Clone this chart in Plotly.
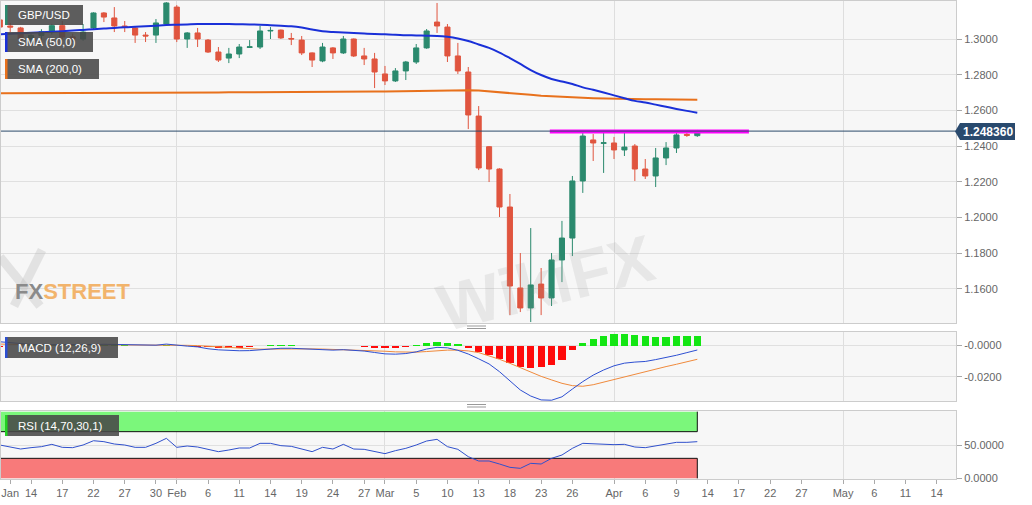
import plotly.graph_objects as go
from plotly.subplots import make_subplots

# ---------------- data ----------------
dates = [
    "2020-01-09", "2020-01-10", "2020-01-13", "2020-01-14", "2020-01-15", "2020-01-16", "2020-01-17",
    "2020-01-20", "2020-01-21", "2020-01-22", "2020-01-23", "2020-01-24", "2020-01-27", "2020-01-28",
    "2020-01-29", "2020-01-30", "2020-01-31",
    "2020-02-03", "2020-02-04", "2020-02-05", "2020-02-06", "2020-02-07", "2020-02-10", "2020-02-11",
    "2020-02-12", "2020-02-13", "2020-02-14", "2020-02-17", "2020-02-18", "2020-02-19", "2020-02-20",
    "2020-02-21", "2020-02-24", "2020-02-25", "2020-02-26", "2020-02-27", "2020-02-28",
    "2020-03-02", "2020-03-03", "2020-03-04", "2020-03-05", "2020-03-06", "2020-03-09", "2020-03-10",
    "2020-03-11", "2020-03-12", "2020-03-13", "2020-03-16", "2020-03-17", "2020-03-18", "2020-03-19",
    "2020-03-20", "2020-03-23", "2020-03-24", "2020-03-25", "2020-03-26", "2020-03-27", "2020-03-30",
    "2020-03-31",
    "2020-04-01", "2020-04-02", "2020-04-03", "2020-04-06", "2020-04-07", "2020-04-08", "2020-04-09",
    "2020-04-10", "2020-04-13",
]

opens = [1.3107, 1.3073, 1.3062, 1.3000, 1.3020, 1.3040, 1.3075, 1.3012, 1.3000, 1.3062,
         1.3146, 1.3118, 1.3073, 1.3062, 1.3022, 1.3022, 1.3084, 1.3179, 1.3000, 1.3034,
         1.2994, 1.2927, 1.2893, 1.2916, 1.2953, 1.2955, 1.3045, 1.3050, 1.3003, 1.2994,
         1.2922, 1.2877, 1.2950, 1.2922, 1.3000, 1.2905, 1.2888, 1.2804, 1.2765, 1.2821,
         1.2871, 1.2950, 1.3095, 1.3067, 1.2905, 1.2815, 1.2568, 1.2396, 1.2271, 1.2058,
         1.1604, 1.1492, 1.1626, 1.1548, 1.1761, 1.1884, 1.2204, 1.2434, 1.2415, 1.2417,
         1.2378, 1.2400, 1.2271, 1.2232, 1.2333, 1.2389, 1.2465, 1.2458]
highs = [1.3115, 1.3090, 1.3068, 1.3030, 1.3055, 1.3085, 1.3101, 1.3030, 1.3084, 1.3150,
         1.3151, 1.3179, 1.3101, 1.3067, 1.3039, 1.3112, 1.3207, 1.3190, 1.3039, 1.3062,
         1.3000, 1.2955, 1.2950, 1.2972, 1.2994, 1.3073, 1.3067, 1.3053, 1.3034, 1.3017,
         1.2925, 1.2978, 1.2955, 1.3017, 1.3003, 1.2950, 1.2922, 1.2849, 1.2837, 1.2877,
         1.2972, 1.3056, 1.3202, 1.3084, 1.2978, 1.2843, 1.2624, 1.2400, 1.2275, 1.2131,
         1.1800, 1.1940, 1.1716, 1.1800, 1.1980, 1.2232, 1.2473, 1.2467, 1.2473, 1.2451,
         1.2473, 1.2411, 1.2327, 1.2389, 1.2422, 1.2473, 1.2473, 1.2490]
lows = [1.3050, 1.3039, 1.2965, 1.2975, 1.2995, 1.3025, 1.3000, 1.2985, 1.2990, 1.3055,
        1.3095, 1.3039, 1.3039, 1.2978, 1.2983, 1.2978, 1.3075, 1.2983, 1.2950, 1.2955,
        1.2922, 1.2871, 1.2865, 1.2893, 1.2950, 1.2944, 1.3000, 1.3000, 1.2966, 1.2910,
        1.2843, 1.2870, 1.2888, 1.2916, 1.2899, 1.2854, 1.2725, 1.2742, 1.2759, 1.2770,
        1.2860, 1.2945, 1.3034, 1.2871, 1.2804, 1.2495, 1.2265, 1.2198, 1.2002, 1.1452,
        1.1469, 1.1413, 1.1452, 1.1503, 1.1637, 1.1783, 1.2137, 1.2316, 1.2249, 1.2327,
        1.2344, 1.2204, 1.2215, 1.2170, 1.2293, 1.2361, 1.2451, 1.2451]
closes = [1.3067, 1.3067, 1.3000, 1.3020, 1.3040, 1.3075, 1.3011, 1.3003, 1.3039, 1.3146,
          1.3123, 1.3073, 1.3067, 1.3022, 1.3017, 1.3090, 1.3202, 1.3000, 1.3034, 1.3000,
          1.2927, 1.2882, 1.2916, 1.2955, 1.2956, 1.3045, 1.3048, 1.3006, 1.3000, 1.2922,
          1.2882, 1.2955, 1.2922, 1.3000, 1.2905, 1.2888, 1.2815, 1.2765, 1.2821, 1.2871,
          1.2950, 1.3045, 1.3073, 1.2905, 1.2821, 1.2574, 1.2277, 1.2271, 1.2058, 1.1615,
          1.1492, 1.1621, 1.1548, 1.1761, 1.1884, 1.2204, 1.2456, 1.2417, 1.2418, 1.2378,
          1.2394, 1.2271, 1.2232, 1.2333, 1.2389, 1.2462, 1.2460, 1.24836]

sma50 = [1.3026, 1.3029, 1.3032, 1.3035, 1.3038, 1.3041, 1.3044, 1.3047, 1.3051, 1.3055,
         1.3059, 1.3062, 1.3066, 1.3069, 1.3072, 1.3075, 1.3078, 1.3080, 1.3082, 1.3084,
         1.3084, 1.3084, 1.3084, 1.3083, 1.3082, 1.3080, 1.3077, 1.3074, 1.3071, 1.3064,
         1.3053, 1.3043, 1.3039, 1.3037, 1.3034, 1.3031, 1.3028, 1.3026, 1.3024, 1.3021,
         1.3020, 1.3018, 1.3017, 1.3012, 1.3003, 1.2989, 1.2969, 1.2950, 1.2924, 1.2893,
         1.2860, 1.2826, 1.2798, 1.2776, 1.2762, 1.2748, 1.2729, 1.2715, 1.2700, 1.2684,
         1.2668, 1.2653, 1.2644, 1.2632, 1.2620, 1.2608, 1.2597, 1.2587]
sma200 = [1.2696, 1.2696, 1.2696, 1.2696, 1.2697, 1.2697, 1.2697, 1.2697, 1.2698, 1.2698,
          1.2698, 1.2698, 1.2699, 1.2699, 1.2699, 1.2699, 1.2700, 1.2700, 1.2700, 1.2700,
          1.2700, 1.2700, 1.2701, 1.2701, 1.2701, 1.2701, 1.2702, 1.2702, 1.2702, 1.2702,
          1.2702, 1.2703, 1.2703, 1.2703, 1.2703, 1.2704, 1.2705, 1.2706, 1.2707, 1.2708,
          1.2710, 1.2711, 1.2712, 1.2713, 1.2713, 1.2713, 1.2711, 1.2707, 1.2702, 1.2697,
          1.2692, 1.2687, 1.2682, 1.2678, 1.2675, 1.2672, 1.2670, 1.2668, 1.2666, 1.2665,
          1.2664, 1.2663, 1.2662, 1.2662, 1.2661, 1.2660, 1.2660, 1.2659]

macd_line = [0.0025, 0.0018, 0.0012, 0.0008, 0.0006, 0.0006, 0.0005, 0.0004, 0.0004, 0.0007,
             0.0009, 0.0008, 0.0006, 0.0003, 0.0001, 0.0003, 0.0010, 0.0002, -0.0003, -0.0008,
             -0.0020, -0.0027, -0.0031, -0.0033, -0.0032, -0.0027, -0.0020, -0.0017, -0.0017, -0.0020,
             -0.0026, -0.0027, -0.0029, -0.0026, -0.0030, -0.0035, -0.0044, -0.0053, -0.0055, -0.0051,
             -0.0040, -0.0022, -0.0011, -0.0014, -0.0030, -0.0054, -0.0085, -0.0118, -0.0168, -0.0228,
             -0.0286, -0.0325, -0.0350, -0.0352, -0.0330, -0.0280, -0.0232, -0.0190, -0.0157, -0.0130,
             -0.0113, -0.0106, -0.0102, -0.0090, -0.0077, -0.0062, -0.0045, -0.0028]
signal_line = [0.0010, 0.0008, 0.0007, 0.0006, 0.0005, 0.0004, 0.0004, 0.0003, 0.0003, 0.0003,
               0.0004, 0.0005, 0.0005, 0.0004, 0.0004, 0.0003, 0.0004, 0.0004, 0.0002, 0.0000,
               -0.0004, -0.0010, -0.0015, -0.0019, -0.0022, -0.0023, -0.0022, -0.0021, -0.0020, -0.0020,
               -0.0021, -0.0022, -0.0024, -0.0025, -0.0026, -0.0028, -0.0031, -0.0036, -0.0040, -0.0042,
               -0.0042, -0.0038, -0.0033, -0.0029, -0.0029, -0.0034, -0.0045, -0.0064, -0.0088, -0.0114,
               -0.0143, -0.0172, -0.0198, -0.0221, -0.0243, -0.0258, -0.0262, -0.0252, -0.0235, -0.0218,
               -0.0200, -0.0183, -0.0167, -0.0151, -0.0135, -0.0120, -0.0104, -0.0088]
macd_hist = [-0.0008, -0.0005, -0.0004, 0.0002, 0.0002, 0.0002, 0.0002, 0.0001, 0.0001, 0.0004,
             0.0005, 0.0003, 0.0001, -0.0001, -0.0003, 0.0000, 0.0006, -0.0002, -0.0005, -0.0008,
             -0.0011, -0.0014, -0.0015, -0.0013, -0.0010, -0.0004, 0.0001, 0.0003, 0.0002, -0.0001,
             -0.0005, -0.0005, -0.0005, -0.0001, -0.0004, -0.0007, -0.0013, -0.0017, -0.0015, -0.0009,
             0.0002, 0.0016, 0.0022, 0.0015, 0.0008, -0.0012, -0.0042, -0.0062, -0.0086, -0.0112,
             -0.0138, -0.0145, -0.0140, -0.0125, -0.0095, -0.0030, 0.0020, 0.0044, 0.0063, 0.0072,
             0.0076, 0.0068, 0.0060, 0.0059, 0.0059, 0.0060, 0.0060, 0.0061]

rsi = [50, 47, 44, 46, 47.5, 51, 46.5, 46, 50, 56.4,
       55, 51.5, 50, 46.5, 46.5, 52.5, 60, 46.5, 48.5, 47,
       43.5, 40, 42.5, 45.5, 45.5, 52.5, 52.5, 49, 48, 44,
       40, 46.5, 44, 51, 44, 43.5, 40, 37, 41.5, 45,
       50, 56, 58.5, 47.5, 43.5, 32.5, 26, 26, 21.5, 16.5,
       15, 22.5, 21.5, 30, 35, 45, 52.5, 51.5, 51.5, 50.5,
       51, 47, 46, 49, 51, 54, 54, 55]

last_price = 1.248360
resistance_dates = ["2020-03-24 08:00", "2020-04-20 11:00"]
resistance_level = [1.2481, 1.2481]
rsi_upper, rsi_lower = 70, 30

tick_dates = ["2020-01-10", "2020-01-14", "2020-01-17", "2020-01-22", "2020-01-27", "2020-01-30",
              "2020-02-03", "2020-02-06", "2020-02-11", "2020-02-14", "2020-02-19", "2020-02-24",
              "2020-02-27", "2020-03-02", "2020-03-05", "2020-03-10", "2020-03-13", "2020-03-18",
              "2020-03-23", "2020-03-26", "2020-04-01", "2020-04-06", "2020-04-09", "2020-04-14",
              "2020-04-17", "2020-04-22", "2020-04-27", "2020-05-01", "2020-05-06", "2020-05-11",
              "2020-05-14"]
tick_labels = ["Jan", "14", "17", "22", "27", "30", "Feb", "6", "11", "14", "19", "24", "27", "Mar",
               "5", "10", "13", "18", "23", "26", "Apr", "6", "9", "14", "17", "22", "27", "May",
               "6", "11", "14"]
month_starts = ["2020-02-03", "2020-03-02", "2020-04-01", "2020-05-01"]
price_ticks = [1.16, 1.18, 1.20, 1.22, 1.24, 1.26, 1.28, 1.30]
macd_ticks = [0.0, -0.02]
macd_tick_labels = ["-0.0000", "-0.0200"]
rsi_ticks = [0, 50]
rsi_tick_labels = ["0.0000", "50.0000"]

for arr in (opens, highs, lows, closes, sma50, sma200, macd_line, signal_line, macd_hist, rsi):
    assert len(arr) == len(dates), len(arr)

# ---------------- styling / layout helpers ----------------
GREEN = "#2b8a6e"
RED = "#e0553f"
H_GREEN = "#14e614"
H_RED = "#ff0a0a"
FONT = "Liberation Sans, Arial, sans-serif"

W, H = 1032, 505
ML, MR, MT, MB = 1, 76, 1, 26
PW = W - ML - MR
PH = H - MT - MB


def px(x):
    return (x - ML) / PW


def py(y):
    return (H - MB - y) / PH


def noon(d):
    return d + " 12:00"


xpos = [noon(d) for d in dates]

fig = make_subplots(rows=3, cols=1, shared_xaxes=True, vertical_spacing=0.02)

# price panel
fig.add_trace(go.Candlestick(
    x=xpos, open=opens, high=highs, low=lows, close=closes,
    increasing=dict(line=dict(color=GREEN, width=1), fillcolor=GREEN),
    decreasing=dict(line=dict(color=RED, width=1), fillcolor=RED),
    whiskerwidth=0, showlegend=False, hoverinfo="skip"), row=1, col=1)
fig.add_trace(go.Scatter(x=xpos, y=sma200, mode="lines", line=dict(color="#e8711c", width=2),
                         showlegend=False, hoverinfo="skip"), row=1, col=1)
fig.add_trace(go.Scatter(x=xpos, y=sma50, mode="lines", line=dict(color="#1a30d8", width=2, shape="spline"),
                         showlegend=False, hoverinfo="skip"), row=1, col=1)
fig.add_trace(go.Scatter(x=resistance_dates, y=resistance_level, mode="lines",
                         line=dict(color="#ff00ff", width=4), showlegend=False, hoverinfo="skip"),
              row=1, col=1)

# MACD panel
fig.add_trace(go.Bar(x=xpos, y=macd_hist, width=0.7 * 86400000,
                     marker=dict(color=[H_GREEN if v >= 0 else H_RED for v in macd_hist], line=dict(width=0)),
                     showlegend=False, hoverinfo="skip"), row=2, col=1)
fig.add_trace(go.Scatter(x=xpos, y=signal_line, mode="lines", line=dict(color="#f08a3c", width=1),
                         showlegend=False, hoverinfo="skip"), row=2, col=1)
fig.add_trace(go.Scatter(x=xpos, y=macd_line, mode="lines", line=dict(color="#2d4fd2", width=1),
                         showlegend=False, hoverinfo="skip"), row=2, col=1)

# RSI panel
x0, x1 = xpos[0], xpos[-1]
fig.add_trace(go.Scatter(x=[x0, x1, x1, x0, x0], y=[rsi_upper, rsi_upper, 100, 100, rsi_upper],
                         fill="toself", fillcolor="#7bf77b", mode="lines", line=dict(width=0),
                         showlegend=False, hoverinfo="skip"), row=3, col=1)
fig.add_trace(go.Scatter(x=[x0, x1, x1, x0, x0], y=[0, 0, rsi_lower, rsi_lower, 0],
                         fill="toself", fillcolor="#f87a7a", mode="lines", line=dict(width=0),
                         showlegend=False, hoverinfo="skip"), row=3, col=1)
fig.add_trace(go.Scatter(x=[x0, x1, x1], y=[rsi_upper, rsi_upper, 100], mode="lines",
                         line=dict(color="#111111", width=1), showlegend=False, hoverinfo="skip"),
              row=3, col=1)
fig.add_trace(go.Scatter(x=[x0, x1, x1], y=[rsi_lower, rsi_lower, 0], mode="lines",
                         line=dict(color="#111111", width=1), showlegend=False, hoverinfo="skip"),
              row=3, col=1)
fig.add_trace(go.Scatter(x=xpos, y=rsi, mode="lines", line=dict(color="#3050cc", width=1),
                         showlegend=False, hoverinfo="skip"), row=3, col=1)

# axes
fig.update_xaxes(
    type="date", rangebreaks=[dict(bounds=["sat", "mon"])],
    range=["2020-01-09 14:46", "2020-05-18 08:24"], automargin=False,
    showgrid=False, zeroline=False, rangeslider_visible=False,
    showline=True, mirror=True, linecolor="#cccccc", linewidth=1,
    tickmode="array", tickvals=[noon(d) for d in tick_dates], ticktext=tick_labels,
    ticks="", showticklabels=False,
    minor=dict(tickmode="array", tickvals=[noon(d) for d in month_starts], showgrid=True,
               gridcolor="#dedede", gridwidth=1, ticks=""),
)
fig.update_xaxes(row=3, col=1, showticklabels=True, ticks="outside", ticklen=4, tickcolor="#aaaaaa",
                 tickfont=dict(size=11, color="#666666", family=FONT))

common_y = dict(side="right", showgrid=True, gridcolor="#e0e0e0", gridwidth=1, zeroline=False,
                showline=True, mirror=True, linecolor="#cccccc", linewidth=1, automargin=False,
                ticks="outside", ticklen=5, tickcolor="#aaaaaa",
                tickfont=dict(size=11, color="#666666", family=FONT), tickmode="array")
fig.update_yaxes(row=1, col=1, range=[1.14076, 1.32131], tickvals=price_ticks,
                 ticktext=[f"{v:.4f}" for v in price_ticks], **common_y)
fig.update_yaxes(row=2, col=1, range=[-0.0357, 0.0088], tickvals=macd_ticks, ticktext=macd_tick_labels,
                 **common_y)
fig.update_yaxes(row=3, col=1, range=[-1, 101], tickvals=rsi_ticks, ticktext=rsi_tick_labels, **common_y)

fig.update_layout(
    yaxis=dict(domain=[py(323), py(MT)]),
    yaxis2=dict(domain=[py(401), py(332)]),
    yaxis3=dict(domain=[py(479), py(411)]),
)

# price line (current level) across the main panel
shapes = [
    dict(type="line", xref="x domain", yref="y", x0=0, x1=1, y0=last_price, y1=last_price,
         line=dict(color="#2c4a6b", width=1), layer="above"),
]

# price label box with arrow
yc = 131.5
shapes.append(dict(type="path", xref="paper", yref="paper", layer="above",
                   path=f"M {px(955)} {py(yc)} L {px(960)} {py(123)} L {px(1015)} {py(123)} "
                        f"L {px(1015)} {py(140)} L {px(960)} {py(140)} Z",
                   fillcolor="#294a6e", line=dict(width=0)))

# FXSTREET logo background "X" strokes (graphic)
for (ax0, ay0, ax1, ay1) in ((42, 250, 14, 306), (0, 257, 40, 306)):
    shapes.append(dict(type="line", xref="paper", yref="paper", layer="above",
                       x0=px(ax0), y0=py(ay0), x1=px(ax1), y1=py(ay1),
                       line=dict(color="rgba(185,185,185,0.35)", width=9)))

# legend boxes
boxes = [
    (5, 83, 5, 25, GREEN),
    (5, 93, 32, 52, "#1a30d8"),
    (5, 99, 59, 79, "#e8711c"),
    (5, 118, 337, 358, "#2d4fd2"),
    (5, 119, 415, 436, "#22d022"),
]
for (bx0, bx1, by0, by1, c) in boxes:
    shapes.append(dict(type="rect", xref="paper", yref="paper", layer="above",
                       x0=px(bx0), x1=px(bx1), y0=py(by1), y1=py(by0),
                       fillcolor="rgba(72,72,72,0.88)", line=dict(width=0)))
    shapes.append(dict(type="rect", xref="paper", yref="paper", layer="above",
                       x0=px(bx0), x1=px(bx0 + 2.5), y0=py(by1), y1=py(by0),
                       fillcolor=c, line=dict(width=0)))

# panel resize handles
for hy in (326, 328.5, 404.5, 407):
    shapes.append(dict(type="line", xref="paper", yref="paper", layer="above",
                       x0=px(467), x1=px(486), y0=py(hy), y1=py(hy),
                       line=dict(color="#999999", width=1)))

annotations = []
for text, ty in (("GBP/USD", 15), ("SMA (50,0)", 42), ("SMA (200,0)", 69),
                 ("MACD (12,26,9)", 347.5), ("RSI (14,70,30,1)", 425.5)):
    annotations.append(dict(text=text, xref="paper", yref="paper", x=px(16), y=py(ty),
                            xanchor="left", yanchor="middle", showarrow=False,
                            font=dict(size=11.5, color="white", family=FONT)))

annotations.append(dict(text="<b>1.248360</b>", xref="paper", yref="paper", x=px(988), y=py(yc),
                        xanchor="center", yanchor="middle", showarrow=False,
                        font=dict(size=12, color="white", family=FONT)))

# watermarks
annotations.append(dict(text="<b><span style='color:#8a8a8a'>FX</span>"
                             "<span style='color:#f2b46c'>STREET</span></b>",
                        xref="paper", yref="paper", x=px(13), y=py(291),
                        xanchor="left", yanchor="middle", showarrow=False,
                        font=dict(size=22, family="Liberation Sans Narrow, Liberation Sans, sans-serif")))
annotations.append(dict(text="<b>WikiFX</b>", xref="paper", yref="paper", x=px(545), y=py(283),
                        xanchor="center", yanchor="middle", showarrow=False, textangle=-14,
                        font=dict(size=66, color="rgba(150,150,150,0.16)", family=FONT)))

fig.update_layout(
    width=W, height=H, autosize=False,
    margin=dict(l=ML, r=MR, t=MT, b=MB, pad=0, autoexpand=False),
    paper_bgcolor="white", plot_bgcolor="#f7f7f7",
    showlegend=False, hovermode=False,
    font=dict(family=FONT, size=11, color="#666666"),
    shapes=shapes, annotations=annotations,
    bargap=0,
)

fig.write_html(
    "out.html",
    config={"displayModeBar": False, "staticPlot": True},
    post_script="document.documentElement.style.margin='0';document.documentElement.style.padding='0';"
                "document.body.style.margin='0';document.body.style.padding='0';"
                "document.body.style.overflow='hidden';",
)
